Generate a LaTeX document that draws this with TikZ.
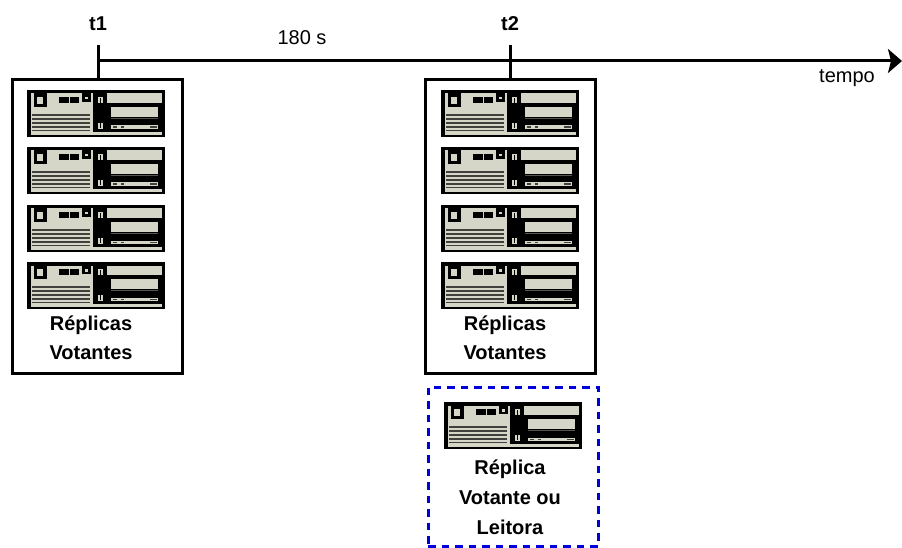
\documentclass[tikz,border=0pt]{standalone}
\usepackage{fontspec}
\setmainfont{Liberation Sans}
\usetikzlibrary{arrows.meta}
\definecolor{beige}{RGB}{214,214,200}
\definecolor{dashblue}{RGB}{0,0,220}
\tikzset{
  x=1pt,y=-1pt,
  panel/.style={fill=beige,draw=none},
  ink/.style={fill=black,draw=none},
  softink/.style={fill=black!70!beige,draw=none},
  stripe/.style={draw=black!70!beige,line width=1.4pt},
  group/.style={draw=black,line width=3pt},
  optgroup/.style={draw=dashblue,line width=3pt,dash pattern=on 7.5pt off 6pt},
  lab/.style={font=\fontsize{20}{24}\selectfont\bfseries,align=center,inner sep=0pt},
  plainlab/.style={font=\fontsize{20}{24}\selectfont,inner sep=0pt},
  axisline/.style={draw=black,line width=3pt},
  server/.pic={
    \fill[ink] (0,0) rectangle (138,47);
    \fill[panel] (4,3.5) rectangle (66,42);
    \fill[panel] (4,42) rectangle (135,45);
    \fill[ink] (7,3.5) rectangle (20,17);
    \fill[panel] (10,7) rectangle (16,14);
    \fill[ink] (32,7) rectangle (41.5,13);
    \fill[ink] (42.5,7) rectangle (52,13);
    \fill[ink] (55,3.5) rectangle (64,12);
    \fill[panel] (58,7) rectangle (61,9.5);
    \foreach \yy in {25,29,33,37,40.5} \draw[stripe] (5,\yy) -- (63,\yy);
    \fill[panel] (71,7) rectangle (76,13);
    \fill[panel] (71,33) rectangle (76,39);
    \fill[ink] (73,8) rectangle (74,13);
    \fill[ink] (73,33) rectangle (74,38);
    \fill[panel] (80,3.5) rectangle (135,13);
    \fill[panel] (84,17) rectangle (131,27);
    \fill[panel] (84,35.5) rectangle (131,39);
    \draw[black!60!beige,line width=.8pt] (84,28.5) -- (131,28.5);
    \fill[softink] (86,36.5) rectangle (90,38);
    \fill[softink] (94,36.5) rectangle (97,38);
    \fill[softink] (123,36.5) rectangle (130,38);
  },
}
\begin{document}
\begin{tikzpicture}
\useasboundingbox (0,0) rectangle (902,548);
% groups
\node[group,minimum width=170pt,minimum height=293pt,inner sep=0pt] (boxa) at (97,226.5) {};
\node[group,minimum width=170pt,minimum height=293pt,inner sep=0pt] (boxb) at (510,226.5) {};
\node[optgroup,minimum width=170pt,minimum height=159pt,inner sep=0pt] (boxc) at (513,466.5) {};
% servers
\foreach \yy in {90,147,205,262} {
  \pic at (27,\yy) {server};
  \pic at (441,\yy) {server};
}
\pic at (444,402) {server};
% labels
\node[lab] (t1) at (98,24) {t1};
\node[lab] (t2) at (510,24) {t2};
\node[plainlab] (delay) at (302,38) {180 s};
\node[plainlab] (tempo) at (847,78) {tempo};
\node[lab] (rva) at (91,338) {Réplicas\\[5pt]Votantes};
\node[lab] (rvb) at (505,338) {Réplicas\\[5pt]Votantes};
\node[lab] (rvc) at (510,497) {Réplica\\[6pt]Votante ou\\[6pt]Leitora};
% axis
\coordinate (taila) at (98,45);
\coordinate (tailb) at (510,45);
\coordinate (axisstart) at (98,61);
\coordinate (axisend) at (902,61);
\draw[axisline,-{Stealth[length=14pt,width=24pt,inset=3pt]}] (axisstart) -- (axisend);
\draw[axisline] (taila) -- (taila |- boxa.north);
\draw[axisline] (tailb) -- (tailb |- boxb.north);
\end{tikzpicture}
\end{document}
